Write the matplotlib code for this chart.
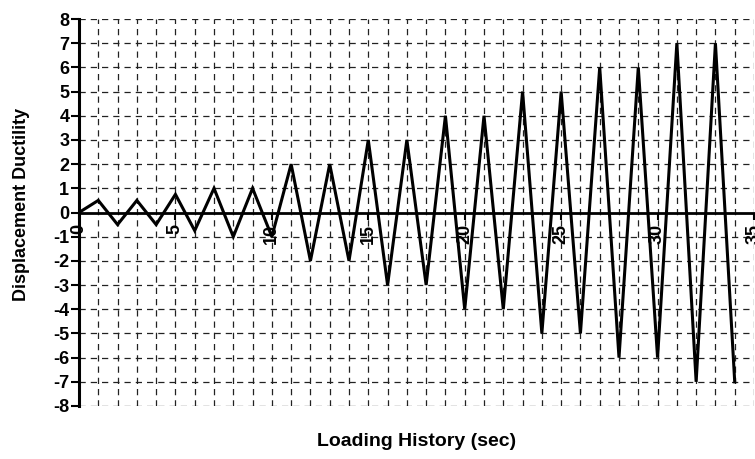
import matplotlib
matplotlib.use('Agg')
import matplotlib.pyplot as plt
import numpy as np

# loading history: time (sec) and displacement ductility peaks
t = [0, 1, 2, 3, 4, 5, 6, 7, 8, 9, 10, 11, 12, 13, 14, 15, 16, 17,
     18, 19, 20, 21, 22, 23, 24, 25, 26, 27, 28, 29, 30, 31, 32, 33, 34]
mu = [0, 0.5, -0.5, 0.5, -0.5, 0.75, -0.75, 1, -1, 1, -1, 2, -2, 2, -2,
      3, -3, 3, -3, 4, -4, 4, -4, 5, -5, 5, -5, 6, -6, 6, -6, 7, -7, 7, -7]
xticks = [0, 5, 10, 15, 20, 25, 30, 35]
yticks = list(range(-8, 9))


def main():
    plt.rcParams['font.family'] = ['Liberation Sans', 'DejaVu Sans']
    plt.rcParams['font.weight'] = 'bold'
    fig = plt.figure(figsize=(7.55, 4.59), dpi=100)
    ax = fig.add_axes([79 / 755, 1 - 406 / 459, 675 / 755, 387 / 459])

    ax.plot(t, mu, color='black', lw=2.2, solid_joinstyle='miter', zorder=3)

    ax.set_xlim(0, 35)
    ax.set_ylim(-8, 8)

    # dashed grid every unit
    for x in range(1, 36):
        ax.axvline(x, color='#222222', lw=0.9, ls=(0, (5, 4)), zorder=1)
    for y in range(-8, 9):
        if y != 0:
            ax.axhline(y, color='#222222', lw=0.9, ls=(0, (5, 4)), zorder=1)

    ax.spines['top'].set_visible(False)
    ax.spines['right'].set_visible(False)
    ax.spines['bottom'].set_position(('data', 0))
    ax.spines['bottom'].set_linewidth(2)
    ax.spines['bottom'].set_zorder(4)
    ax.spines['left'].set_linewidth(2.2)

    ax.set_yticks(yticks)
    ax.set_yticklabels([str(v) for v in yticks], fontsize=13, fontweight='bold')
    ax.tick_params(axis='y', direction='out', length=6, width=1.5, pad=1)

    ax.set_xticks(xticks)
    ax.set_xticklabels([str(v) for v in xticks], fontsize=13, fontweight='bold', rotation=90)
    ax.tick_params(axis='x', direction='out', length=5, width=1.5, pad=3)

    ax.set_ylabel('Displacement Ductility', fontsize=13, fontweight='bold')
    ax.yaxis.set_label_coords(-49 / 675, 0.52)
    fig.text(417 / 755, 1 - 441 / 459, 'Loading History (sec)', fontsize=14,
             fontweight='bold', ha='center', va='center')

    fig.savefig('out.png', dpi=100)


if __name__ == '__main__':
    main()
